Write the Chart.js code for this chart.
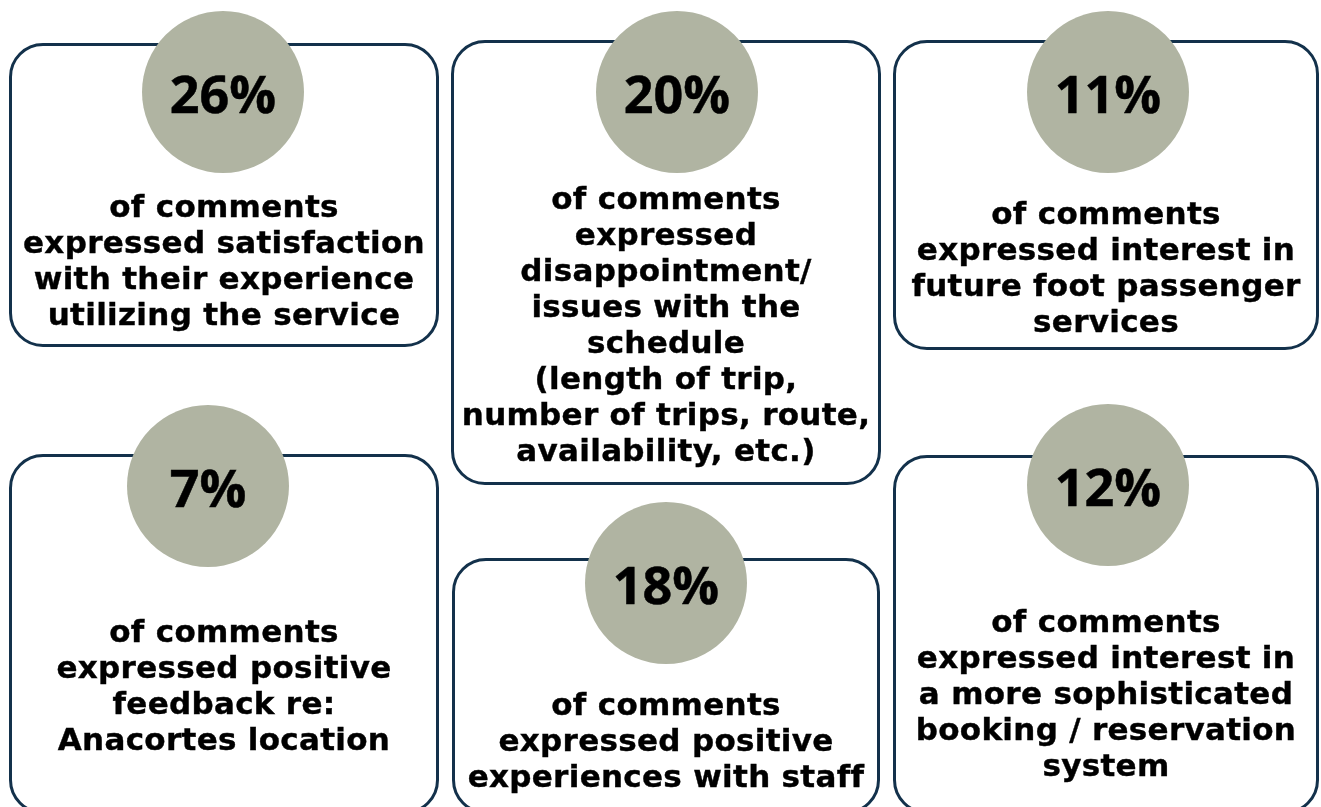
<!DOCTYPE html>
<html>
<head>
<meta charset="utf-8">
<title>Comment themes</title>
<script src="https://cdn.jsdelivr.net/npm/chart.js@4.4.1/dist/chart.umd.min.js"></script>
<style>
  html, body { margin: 0; padding: 0; background: #fff; overflow: hidden; }
  #stage { position: relative; width: 1321px; height: 807px; }
  .card {
    position: absolute;
    box-sizing: border-box;
    border: 3px solid #13314b;
    border-radius: 34px;
    background: #fff;
  }
  #bubbles { position: absolute; left: 0; top: 0; }
  .desc, .pct {
    position: absolute;
    font-weight: 700;
    color: #000;
    text-align: center;
    white-space: nowrap;
  }
  .desc {
    font-family: 'DejaVu Sans', sans-serif;
    font-size: 31px;
    line-height: 36px;
    letter-spacing: 0.3px;
    -webkit-text-stroke: 0.4px #000;
  }
  .pct {
    font-family: 'Open Sans', sans-serif;
    font-size: 52px;
    line-height: 60px;
    width: 200px;
    margin-left: -100px;
    margin-top: -29px;
    -webkit-text-stroke: 0.5px #000;
  }
</style>
</head>
<body>
<div id="stage">
  <div id="cards"></div>
  <canvas id="bubbles" width="1321" height="807"></canvas>
  <div id="labels"></div>
</div>
<script>
// ── Data ──────────────────────────────────────
const percents = [26, 20, 11, 7, 18, 12];

const descriptions = [
  ['of comments', 'expressed satisfaction', 'with their experience', 'utilizing the service'],
  ['of comments', 'expressed', 'disappointment/', 'issues with the', 'schedule', '(length of trip,', 'number of trips, route,', 'availability, etc.)'],
  ['of comments', 'expressed interest in', 'future foot passenger', 'services'],
  ['of comments', 'expressed positive', 'feedback re:', 'Anacortes location'],
  ['of comments', 'expressed positive', 'experiences with staff'],
  ['of comments', 'expressed interest in', 'a more sophisticated', 'booking / reservation', 'system'],
];

// ── Layout (page pixels) ──────────────────────
const cardBoxes = [
  [9, 43, 439, 347],
  [451, 40, 881, 485],
  [893, 40, 1319, 350],
  [9, 454, 439, 814],
  [452, 558, 880, 814],
  [893, 455, 1319, 814],
];
const circleX = [223, 677, 1108, 208, 666, 1108];
const circleY = [92, 92, 92, 486, 583, 485];
const descTop = [188, 180, 195, 613, 686, 603];

const SAGE = '#b0b4a2';

// cards
const cardsEl = document.getElementById('cards');
cardBoxes.forEach(([l, t, r, b]) => {
  const d = document.createElement('div');
  d.className = 'card';
  d.style.cssText = `left:${l}px;top:${t}px;width:${r - l}px;height:${b - t}px`;
  cardsEl.appendChild(d);
});

// circles
const chart = new Chart(document.getElementById('bubbles'), {
  type: 'bubble',
  data: {
    datasets: [{
      data: percents.map((p, i) => ({ x: circleX[i], y: circleY[i], r: 81, v: p })),
      backgroundColor: SAGE,
      borderWidth: 0,
      hoverRadius: 0,
      clip: false,
    }],
  },
  options: {
    responsive: false,
    animation: false,
    events: [],
    layout: { padding: 0 },
    plugins: { legend: { display: false }, tooltip: { enabled: false } },
    scales: {
      x: { type: 'linear', min: 0, max: 1321, display: false },
      y: { type: 'linear', min: 0, max: 807, reverse: true, display: false },
    },
  },
});

// bubble charts pad the chart area by the radius; make scale units equal page pixels
const ca = chart.chartArea;
chart.options.scales.x.min = ca.left;
chart.options.scales.x.max = ca.right;
chart.options.scales.y.min = ca.top;
chart.options.scales.y.max = ca.bottom;
chart.update();

// labels, placed on the drawn bubbles
const labelsEl = document.getElementById('labels');
const meta = chart.getDatasetMeta(0);
percents.forEach((p, i) => {
  const pt = meta.data[i];
  const n = document.createElement('div');
  n.className = 'pct';
  n.textContent = p + '%';
  n.style.left = pt.x + 'px';
  n.style.top = pt.y + 'px';
  labelsEl.appendChild(n);

  const [l, , r] = cardBoxes[i];
  const d = document.createElement('div');
  d.className = 'desc';
  d.style.cssText = `left:${l}px;width:${r - l}px;top:${descTop[i]}px`;
  d.innerHTML = descriptions[i].join('<br>');
  labelsEl.appendChild(d);
});
</script>
</body>
</html>
